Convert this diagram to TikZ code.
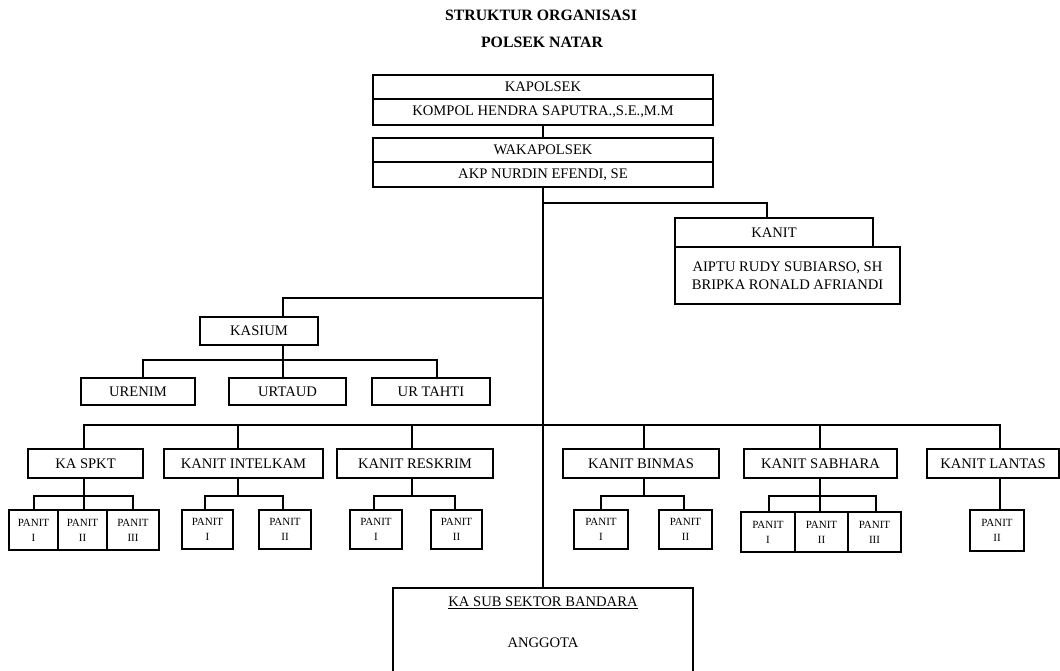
\documentclass[tikz,border=0pt]{standalone}
\usepackage{fontspec}
\setmainfont{Liberation Serif}
\newcommand\fmain{\fontsize{14.6}{18}\selectfont}
\newcommand\fpan{\fontsize{11}{15}\selectfont}
\newcommand\ftitle{\fontsize{15.8}{18}\selectfont\bfseries}
\tikzset{
  bx/.style 2 args={draw, line width=1.1pt, inner sep=0pt, outer sep=0pt,
    minimum width=#1pt, minimum height=#2pt, font=\fmain, align=center},
  pn/.style 2 args={bx={#1}{#2}, font=\fpan},
  ln/.style={line width=1.9pt},
  txt/.style={inner sep=0pt, font=\fmain, align=center}
}
\begin{document}
\begin{tikzpicture}[x=1pt,y=-1pt]
\useasboundingbox (0,0) rectangle (1060,671);
\clip (0,0) rectangle (1060,671);
% title
\node[inner sep=0pt, font=\ftitle] (t1) at (541,15) {STRUKTUR ORGANISASI};
\node[inner sep=0pt, font=\ftitle] (t2) at (542,42) {POLSEK NATAR};
% top
\node[bx={340}{24}] (kap) at (543,87) {KAPOLSEK};
\node[bx={340}{26}] (kapn) at (543,112) {KOMPOL HENDRA SAPUTRA.,S.E.,M.M};
\node[bx={340}{24}] (wak) at (543,150) {WAKAPOLSEK};
\node[bx={340}{25}] (wakn) at (543,174.5) {AKP NURDIN EFENDI, SE};
% kanit
\node[bx={198}{29}] (kanit) at (774,232.5) {KANIT};
\node[bx={225}{57}] (kanitn) at (787.5,275.5) {AIPTU RUDY SUBIARSO, SH\\BRIPKA RONALD AFRIANDI};
% kasium
\node[bx={118}{28}] (kasium) at (259,331) {KASIUM};
\node[bx={114}{27}] (urenim) at (138,391.5) {URENIM};
\node[bx={117}{27}] (urtaud) at (287.5,391.5) {URTAUD};
\node[bx={118}{27}] (urtahti) at (431,391.5) {UR TAHTI};
% ka row
\node[bx={115}{29}] (spkt) at (85.5,463.5) {KA SPKT};
\node[bx={159}{29}] (intel) at (243.5,463.5) {KANIT INTELKAM};
\node[bx={156}{29}] (resk) at (415,463.5) {KANIT RESKRIM};
\node[bx={156}{29}] (binm) at (641,463.5) {KANIT BINMAS};
\node[bx={153}{29}] (sabh) at (820.5,463.5) {KANIT SABHARA};
\node[bx={132}{29}] (lant) at (993,463.5) {KANIT LANTAS};
% panit
\node[pn={49}{40}] (sp1) at (33.5,530) {PANIT\\I};
\node[pn={49}{40}] (sp2) at (82.5,530) {PANIT\\II};
\node[pn={52}{40}] (sp3) at (133,530) {PANIT\\III};
\node[pn={51}{39}] (ip1) at (207.5,529.5) {PANIT\\I};
\node[pn={52}{39}] (ip2) at (285,529.5) {PANIT\\II};
\node[pn={52}{39}] (rp1) at (376,529.5) {PANIT\\I};
\node[pn={51}{39}] (rp2) at (456.5,529.5) {PANIT\\II};
\node[pn={54}{39}] (bp1) at (601,529.5) {PANIT\\I};
\node[pn={53}{39}] (bp2) at (685.5,529.5) {PANIT\\II};
\node[pn={54}{40}] (sb1) at (768,532) {PANIT\\I};
\node[pn={53}{40}] (sb2) at (821.5,532) {PANIT\\II};
\node[pn={53}{40}] (sb3) at (874.5,532) {PANIT\\III};
\node[pn={54}{41}] (lp) at (997,530.5) {PANIT\\II};
% anggota
\node[bx={300}{100}] (ang) at (543,638) {};
\node[txt] (angt1) at (543,603) {\underline{KA SUB SEKTOR BANDARA}};
\node[txt] (angt2) at (543,643) {ANGGOTA};
% connectors
\coordinate (b1) at (543,203);
\coordinate (b2) at (543,298);
\coordinate (b3) at (283,360);
\coordinate (b4) at (543,425);
\coordinate (s1) at (84,496);
\coordinate (s2) at (238,496);
\coordinate (s3) at (412,496);
\coordinate (s4) at (644,496);
\coordinate (s5) at (820,496);
\draw[ln] (kapn.south) -- (wak.north);
\draw[ln] (wakn.south) -- (ang.north);
\draw[ln] (b1) -| ([xshift=-7pt]kanit.north);
\draw[ln] (b2) -| ([xshift=24pt]kasium.north);
\draw[ln] ([xshift=24pt]kasium.south) -- ([xshift=-4.5pt]urtaud.north);
\draw[ln] ([xshift=5pt]urenim.north) |- (b3) -| ([xshift=6pt]urtahti.north);
\draw[ln] ([xshift=-1.5pt]spkt.north) |- (b4) -| ([xshift=7pt]lant.north);
\draw[ln] ([xshift=-5.5pt]intel.north) |- (b4);
\draw[ln] ([xshift=-3pt]resk.north) |- (b4);
\draw[ln] ([xshift=3pt]binm.north) |- (b4);
\draw[ln] ([xshift=-0.5pt]sabh.north) |- (b4);
% panit connectors
\draw[ln] ([xshift=-1.5pt]spkt.south) -- ([xshift=1.5pt]sp2.north);
\draw[ln] ([xshift=0.5pt]sp1.north) |- (s1) -| (sp3.north);
\draw[ln] ([xshift=-5.5pt]intel.south) -- (s2);
\draw[ln] ([xshift=-2.5pt]ip1.north) |- (s2) -| ([xshift=-2pt]ip2.north);
\draw[ln] ([xshift=-3pt]resk.south) -- (s3);
\draw[ln] ([xshift=-2pt]rp1.north) |- (s3) -| ([xshift=-1.5pt]rp2.north);
\draw[ln] ([xshift=3pt]binm.south) -- (s4);
\draw[ln] (bp1.north) |- (s4) -| ([xshift=-1.5pt]bp2.north);
\draw[ln] ([xshift=-0.5pt]sabh.south) -- ([xshift=-1.5pt]sb2.north);
\draw[ln] ([xshift=1pt]sb1.north) |- (s5) -| ([xshift=1.5pt]sb3.north);
\draw[ln] ([xshift=7pt]lant.south) -- ([xshift=3pt]lp.north);
\end{tikzpicture}
\end{document}
